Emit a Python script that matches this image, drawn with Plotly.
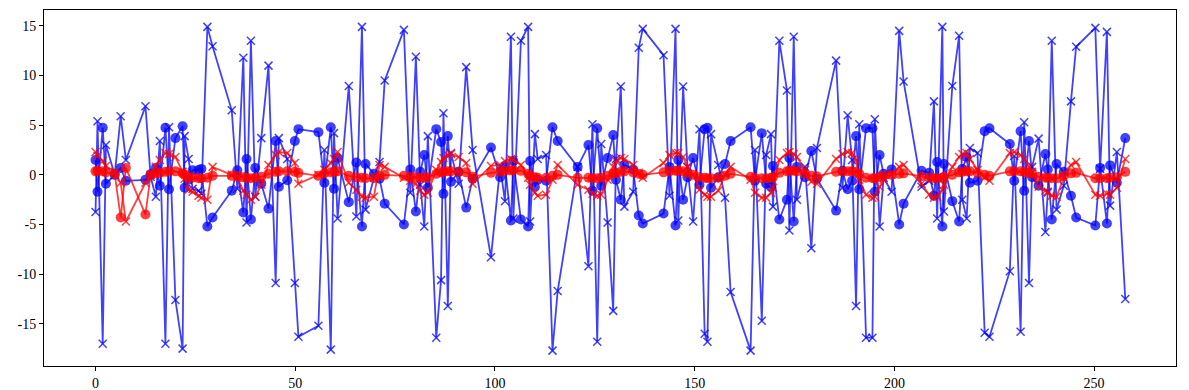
import plotly.graph_objects as go

# shared sample positions
x_pos = [0.0, 0.5, 1.8, 2.6, 4.8, 6.3, 7.6, 12.5, 13.8, 15.1, 16.1, 17.5, 18.4, 20.0, 21.8, 22.3,
         23.3, 24.3, 25.8, 26.5, 28.0, 29.3, 34.1, 35.5, 37.0, 37.8, 38.9, 40.0, 41.5, 43.3, 45.1,
         45.9, 48.0, 49.9, 50.8, 55.8, 57.3, 58.9, 59.7, 60.6, 63.4, 65.3, 66.7, 67.6, 69.7, 71.1,
         72.4, 77.2, 78.8, 80.2, 81.3, 82.3, 83.2, 85.3, 86.5, 87.1, 88.2, 89.0, 90.9, 92.8, 94.4,
         99.0, 101.3, 102.5, 104.0, 104.6, 106.5, 108.3, 108.8, 110.0, 110.7, 112.8, 114.4, 115.7,
         120.7, 123.4, 124.4, 125.6, 126.6, 128.2, 129.6, 130.3, 131.5, 132.4, 134.6, 136.0, 137.0,
         142.2, 143.7, 145.2, 145.9, 147.1, 148.2, 149.6, 151.2, 152.5, 153.2, 154.1, 155.9, 157.6,
         159.0, 164.0, 165.1, 166.8, 167.9, 169.1, 169.6, 171.2, 173.1, 173.7, 174.8, 175.6, 177.6,
         179.2, 180.6, 185.4, 187.0, 188.3, 189.4, 190.4, 191.2, 192.9, 194.5, 195.1, 196.3, 197.3,
         199.3, 201.2, 202.3, 206.8, 208.7, 209.9, 210.7, 212.0, 212.4, 214.5, 216.2, 217.0, 218.1,
         218.9, 220.8, 222.6, 223.8, 228.9, 230.0, 231.6, 232.5, 233.7, 234.5, 236.1, 237.8, 238.4,
         239.4, 240.6, 242.4, 244.2, 245.5, 250.3, 251.5, 253.2, 254.0, 255.7, 257.8]

# blue crosses (noisy)
blue_x_vals = [-3.75, 5.4, -17.0, 3.0, 0.0, 5.9, 1.5, 6.9, -0.2, -2.2, 3.4, -17.0, 4.8, -12.6, -17.5, 3.9,
               1.6, -1.4, -1.6, -1.9, 14.9, 12.95, 6.5, -1.4, 11.8, -4.8, 13.5, -2.2, 3.7, 11.0, -10.9,
               3.7, 1.6, -10.9, -16.3, -15.2, 2.5, -17.6, 4.2, -4.4, 8.95, -4.2, 14.9, -3.5, -0.3, 1.3,
               9.5, 14.6, -1.8, 11.9, -1.0, -5.2, 3.9, -16.4, -10.6, 6.2, -13.2, 2.2, -0.9, 10.85, 2.5,
               -8.3, 0.8, -2.65, 13.9, -4.4, 13.5, 14.9, -4.7, 4.1, 1.6, 2.0, -17.7, -11.7,
               0.8, -9.2, 5.1, -16.8, 3.1, -4.8, -13.7, 1.6, 8.9, -3.2, -1.7, 12.8, 14.7,
               12.05, -2.1, 14.7, -4.6, 8.9, 0.8, -4.7, 4.6, -16.0, -16.8, 4.1, 1.0, -2.3,
               -11.8, -17.7, 2.5, -14.7, 2.0, 4.1, -3.2, 13.5, 8.5, -5.6, 13.9, -2.5, 0.8,
               -7.4, 2.7, 11.5, -1.3, 6.0, 1.5, -13.2, 5.1, -16.4, -16.4, 5.6, -5.2, -0.3,
               -1.7, 14.5, 9.4, -1.2, -0.6, 7.4, -4.4, 14.9, -3.7, 8.95, 14.0, -2.5, -4.4,
               2.7, 2.2, -15.9, -16.3, -9.7, 1.9, -15.8, 5.3, -10.9, 0.8, 3.65, -5.75, -1.7,
               13.5, -3.5, -1.1, 7.4, 12.9, 14.8, 0.6, 14.4, -3.1, 2.3, -12.5]

# blue circles
blue_o_vals = [1.5, -1.7, 4.75, -0.9, 0.0, 0.7, -0.6, -0.5, 0.05, 0.7, -1.1, 4.75, -1.45, 3.7, 4.9, -1.3,
               -0.5, 0.45, 0.5, 0.6, -5.2, -4.3, -1.6, 0.45, -3.8, 1.6, -4.5, 0.7, -0.9, -3.4, 3.4,
               -1.2, -0.55, 3.4, 4.6, 4.3, -0.8, 4.8, -1.4, 1.7, -2.75, 1.24, -5.2, 1.1, 0.1, -0.4,
               -2.9, -5.0, 0.55, -3.7, 0.3, 2.0, -1.3, 4.6, 3.3, -1.9, 3.9, -0.7, 0.3, -3.3, -0.4,
               2.75, -0.25, 0.9, -4.6, 1.4, -4.5, -5.2, 1.4, -1.2, -0.5, -0.6, 4.8, 3.4,
               0.8, 3.0, -1.6, 4.7, -1.1, 1.7, 4.0, -0.5, -2.5, 1.0, 0.55, -4.1, -4.9,
               -3.9, 0.8, -5.1, 1.5, -2.5, -0.25, 1.7, -1.0, 4.6, 4.75, -1.3, -0.25, 1.1,
               3.4, 4.8, -0.6, 4.2, -0.9, -1.2, 0.9, -4.5, -2.5, 1.7, -4.7, 0.8, -0.25,
               2.4, -0.4, -3.6, 0.4, -1.45, -0.6, 3.9, -1.45, 4.7, 4.7, -1.7, 2.0, 0.1,
               0.55, -5.0, -2.9, 0.4, 0.2, -2.1, 1.3, -5.2, 1.1, -2.65, -4.7, 0.6, 1.8,
               -0.8, -0.6, 4.4, 4.7, 3.1, -0.6, 4.4, -1.6, 3.4, -0.25, -1.1, 2.1, 0.55,
               -4.5, 1.1, 0.3, -2.1, -4.3, -5.1, 0.7, -4.9, 0.95, -0.8, 3.7]

# red crosses
red_x_vals = [2.3, 1.9, 1.4, 0.9, 0.3, -0.8, -4.7, -0.8, 0.0, 0.8, 1.5, 2.2, 2.1, 1.8, 0.3, -0.4,
              -1.5, -1.7, -2.1, -2.3, -2.5, 0.8, 0.0, -0.3, -1.6, -2.0, -2.5, -2.2, -1.0, 1.0, 2.0,
              2.3, 2.2, 1.2, -0.9, 0.0, 0.5, 1.2, 1.6, 2.3, -0.8, -1.5, -2.2, -2.3, -2.2, 1.0,
              0.8, -0.3, -0.6, -0.9, -1.6, -2.0, -1.8, 0.5, 1.3, 1.7, 2.0, 2.1, 1.8, 1.2, -0.9,
              0.9, 1.0, 1.4, 1.6, 1.5, 1.0, -0.3, -1.0, -1.8, -2.1, -2.0, -0.5, 1.0,
              -1.0, -1.5, -1.9, -2.1, -2.0, -0.5, 0.8, 1.4, 1.7, 1.6, 1.0, 0.2, -0.3,
              1.2, 2.0, 2.2, 2.2, 1.8, 0.8, 0.0, -1.5, -2.0, -2.2, -2.2, -1.6, 0.0,
              0.8, -0.5, -1.8, -2.3, -2.3, -1.8, -1.3, 1.5, 2.2, 2.3, 2.1, 1.8, 0.5,
              -0.7, -0.9, 1.6, 2.1, 2.3, 2.2, 1.5, -0.5, -2.0, -2.3, -2.2, -1.2, -0.5,
              0.0, 0.8, 1.0, -0.9, -2.0, -2.3, -2.2, -1.5, -1.0, 0.8, 1.8, 2.1, 2.2,
              1.6, 0.5, -0.3, -0.6, 2.2, 2.3, 2.0, 1.6, 0.8, 0.3, -1.2, -1.6, -1.8,
              -2.1, -2.2, -0.3, 1.0, 1.3, -2.0, -2.1, -1.9, -2.0, -1.3, 1.6]

# red circles
red_o_vals = [0.35, 0.4, 0.35, 0.25, 0.1, -4.3, 0.7, -4.0, 0.0, 0.15, 0.2, 0.3, 0.35, 0.35, 0.15, 0.0,
              -0.2, -0.3, -0.35, -0.35, -0.3, -0.1, -0.1, -0.1, -0.25, -0.3, -0.35, -0.3, -0.2, 0.1, 0.3,
              0.35, 0.35, 0.3, 0.2, -0.1, 0.15, 0.25, 0.3, 0.35, -0.1, -0.25, -0.3, -0.35, -0.35, -0.1,
              0.0, -0.1, -0.2, -0.25, -0.3, -0.3, -0.25, 0.1, 0.25, 0.3, 0.35, 0.35, 0.3, 0.25, -0.2,
              0.2, 0.3, 0.4, 0.45, 0.45, 0.4, 0.1, -0.1, -0.25, -0.3, -0.3, -0.1, 0.0,
              -0.3, -0.3, -0.35, -0.35, -0.3, -0.1, 0.1, 0.2, 0.3, 0.35, 0.25, 0.1, 0.0,
              0.25, 0.35, 0.4, 0.4, 0.35, 0.2, 0.0, -0.25, -0.3, -0.35, -0.35, -0.3, -0.1,
              0.1, -0.2, -0.3, -0.35, -0.35, -0.3, -0.25, 0.2, 0.35, 0.4, 0.4, 0.35, 0.1,
              -0.1, -0.15, 0.3, 0.35, 0.35, 0.35, 0.3, 0.1, -0.3, -0.35, -0.35, -0.2, -0.1,
              0.0, 0.1, 0.15, -0.15, -0.3, -0.35, -0.35, -0.3, -0.2, 0.0, 0.25, 0.3, 0.35,
              0.35, 0.2, 0.0, -0.1, 0.35, 0.35, 0.35, 0.3, 0.2, 0.1, -0.2, -0.3, -0.3,
              -0.35, -0.35, -0.1, 0.15, 0.2, -0.35, -0.35, -0.35, -0.3, -0.25, 0.3]

BLUE = "rgba(0,0,255,0.75)"
RED = "rgba(255,0,0,0.75)"

fig = go.Figure()


def add(yvals, color, symbol, size):
    marker = dict(symbol=symbol, size=size, color=color)
    if symbol == "x-thin":
        marker["line"] = dict(color=color, width=1.5)
    else:
        marker["line"] = dict(width=0)
    fig.add_trace(go.Scatter(x=x_pos, y=yvals, mode="lines+markers",
                             line=dict(color=color, width=1.8),
                             marker=marker, showlegend=False, cliponaxis=True))


add(blue_x_vals, BLUE, "x-thin", 8)
add(blue_o_vals, BLUE, "circle", 10)
add(red_x_vals, RED, "x-thin", 8)
add(red_o_vals, RED, "circle", 10)

x_ticks = [0, 50, 100, 150, 200, 250]
y_ticks = [-15, -10, -5, 0, 5, 10, 15]

axis_common = dict(showgrid=False, zeroline=False, showline=True, linecolor="black",
                   linewidth=1, mirror=True, ticks="outside", ticklen=4, tickwidth=1,
                   tickcolor="black", automargin=False,
                   tickfont=dict(family="Liberation Serif", size=14, color="black"))

fig.update_xaxes(range=[-12.9, 270.5], tickvals=x_ticks, ticktext=[str(t) for t in x_ticks], **axis_common)
fig.update_yaxes(range=[-19.25, 16.6], tickvals=y_ticks, ticktext=[str(t) for t in y_ticks], **axis_common)

# the page body adds an 8px offset; size and margins compensate for it
fig.update_layout(template="none", width=1181, height=382,
                  margin=dict(l=36, r=13, t=2, b=24, autoexpand=False),
                  plot_bgcolor="white", paper_bgcolor="white")

fig.write_html("out.html")
